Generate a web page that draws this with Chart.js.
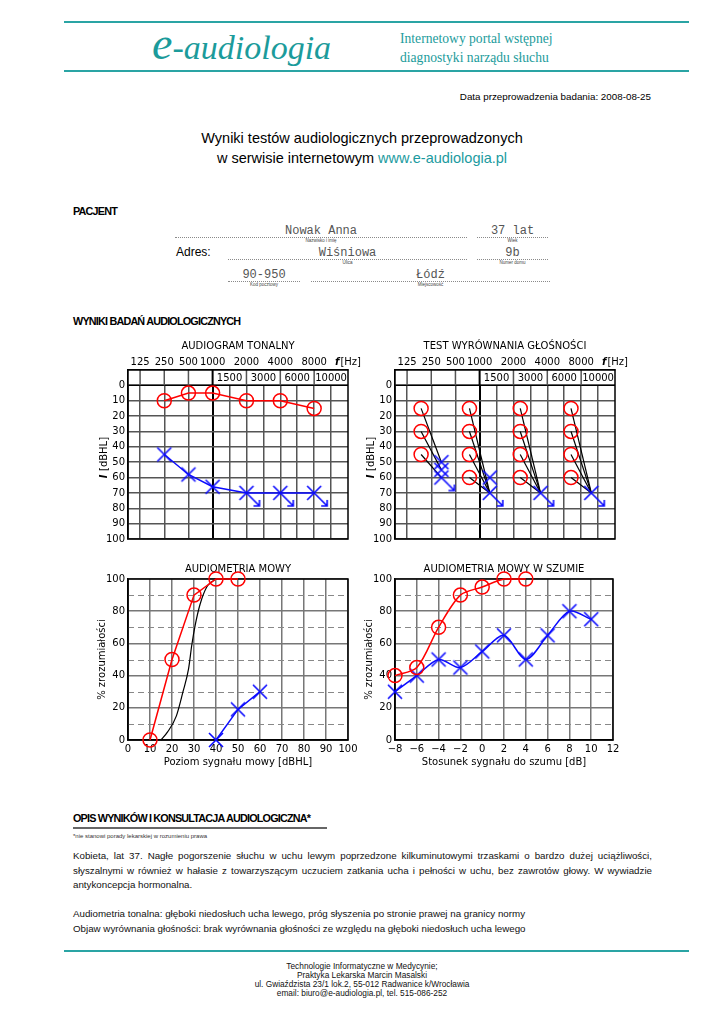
<!DOCTYPE html>
<html>
<head>
<meta charset="utf-8">
<script src="https://cdn.jsdelivr.net/npm/chart.js@4.4.1/dist/chart.umd.min.js"></script>
<style>
body{margin:0;background:#fff;}
#page{position:relative;width:724px;height:1024px;overflow:hidden;font-family:"Liberation Sans",Arial,sans-serif;color:#000;}
.t{position:absolute;white-space:nowrap;}
.hl{position:absolute;height:2px;background:#2aa4a4;}
.dots{position:absolute;height:0;border-top:1px dotted #8a8a8a;}
.val{position:absolute;text-align:center;font-family:"Liberation Mono",monospace;font-size:12px;color:#555;line-height:13px;white-space:nowrap;}
.cap{position:absolute;text-align:center;font-size:4.5px;color:#444;line-height:5px;white-space:nowrap;}
.head{position:absolute;font-weight:bold;font-size:10.8px;letter-spacing:-0.8px;line-height:12px;white-space:nowrap;}
.p{position:absolute;left:73px;font-size:9.75px;line-height:12px;color:#111;}
.j{width:579px;text-align:justify;text-align-last:justify;white-space:nowrap;}
canvas{position:absolute;}
</style>
</head>
<body>
<div id="page">
  <div class="hl" style="left:64px;top:21px;width:625px"></div>
  <div class="hl" style="left:64px;top:70px;width:625px"></div>
  <div class="t" style="left:152px;top:24px;font-family:'Liberation Serif',serif;font-style:italic;color:#1b9b9b;line-height:40px"><span style="font-size:46px">e</span><span style="font-size:34px">-audiologia</span></div>
  <div class="t" style="left:400px;top:30px;font-family:'Liberation Serif',serif;font-size:13.6px;line-height:17px;color:#1b9b9b">Internetowy portal wstępnej</div>
  <div class="t" style="left:400px;top:49px;font-family:'Liberation Serif',serif;font-size:13.6px;line-height:17px;color:#1b9b9b">diagnostyki narządu słuchu</div>

  <div class="t" style="right:73px;top:91px;font-size:9.8px;line-height:12px">Data przeprowadzenia badania: 2008-08-25</div>

  <div class="t" style="left:0;width:724px;text-align:center;top:128px;font-size:14.5px;line-height:20px">Wyniki testów audiologicznych przeprowadzonych</div>
  <div class="t" style="left:0;width:724px;text-align:center;top:148px;font-size:14.5px;line-height:20px">w serwisie internetowym <span style="color:#1b9ba0">www.e-audiologia.pl</span></div>

  <div class="head" style="left:73px;top:205px">PACJENT</div>
  <div class="t" style="left:176px;top:245px;font-size:12px;line-height:14px">Adres:</div>
  <div id="fields"></div>

  <div class="head" style="left:73px;top:315px">WYNIKI BADAŃ AUDIOLOGICZNYCH</div>

  <canvas id="c1" width="285" height="212" style="left:80px;top:336px"></canvas>
  <canvas id="c2" width="285" height="212" style="left:347px;top:336px"></canvas>
  <canvas id="c3" width="285" height="215" style="left:80px;top:558px"></canvas>
  <canvas id="c4" width="285" height="215" style="left:347px;top:558px"></canvas>

  <div class="head" style="left:73px;top:812px">OPIS WYNIKÓW I KONSULTACJA AUDIOLOGICZNA*</div>
  <div style="position:absolute;left:73px;top:827px;width:254px;height:2px;background:#666"></div>
  <div class="t" style="left:73px;top:833px;font-size:6px;line-height:6px;color:#333">*nie stanowi porady lekarskiej w rozumieniu prawa</div>

  <div class="p j" style="top:850px">Kobieta, lat 37. Nagłe pogorszenie słuchu w uchu lewym poprzedzone kilkuminutowymi trzaskami o bardzo dużej uciążliwości,</div>
  <div class="p j" style="top:865px">słyszalnymi w również w hałasie z towarzyszącym uczuciem zatkania ucha i pełności w uchu, bez zawrotów głowy. W wywiadzie</div>
  <div class="p t" style="top:879px">antykoncepcja hormonalna.</div>
  <div class="p t" style="top:908px">Audiometria tonalna: głęboki niedosłuch ucha lewego, próg słyszenia po stronie prawej na granicy normy</div>
  <div class="p t" style="top:923px">Objaw wyrównania głośności: brak wyrównania głośności ze względu na głęboki niedosłuch ucha lewego</div>

  <div class="hl" style="left:64px;top:950px;width:625px"></div>
  <div style="position:absolute;left:0;width:724px;top:962px;text-align:center;font-size:8.3px;line-height:9px;color:#111">
    Technologie Informatyczne w Medycynie;<br>Praktyka Lekarska Marcin Masalski<br>ul. Gwiaździsta 23/1 lok.2, 55-012 Radwanice k/Wrocławia<br>email: biuro@e-audiologia.pl, tel. 515-086-252
  </div>
</div>

<script>
// patient fields: left, width, line y, value, caption
var fields = [
  [175, 292, 237, 'Nowak Anna', 'Nazwisko i imię'],
  [477, 71, 237, '37 lat', 'Wiek'],
  [228, 239, 259, 'Wiśniowa', 'Ulica'],
  [477, 71, 259, '9b', 'Numer domu'],
  [228, 72, 281, '90-950', 'Kod pocztowy'],
  [311, 239, 281, 'Łódź', 'Miejscowość']
];
var fbox = document.getElementById('fields');
fields.forEach(function (f) {
  fbox.insertAdjacentHTML('beforeend',
    '<div class="dots" style="left:' + f[0] + 'px;top:' + f[2] + 'px;width:' + f[1] + 'px"></div>' +
    '<div class="val" style="left:' + f[0] + 'px;top:' + (f[2] - 12) + 'px;width:' + f[1] + 'px">' + f[3] + '</div>' +
    '<div class="cap" style="left:' + f[0] + 'px;top:' + (f[2] + 1) + 'px;width:' + f[1] + 'px">' + f[4] + '</div>');
});

// ---- data ----
var freqs = [125, 250, 500, 1000, 1500, 2000, 3000, 4000, 6000, 8000, 10000];
var mainFreqs = [125, 250, 500, 1000, 2000, 4000, 8000];
var midFreqs = [1500, 3000, 6000, 10000];
var dbTicks = [0, 10, 20, 30, 40, 50, 60, 70, 80, 90, 100];

// audiogram tonalny
var toneFreq = [250, 500, 1000, 2000, 4000, 8000];
var rightThreshold = [10, 5, 5, 10, 10, 15];
var leftThreshold = [45, 58, 66, 70, 70, 70];
var leftNoResponse = [false, false, false, true, true, true];

// test wyrownania glosnosci
var balanceFreq = [250, 1000, 3000, 8000];
var balanceRight = [[15, 30, 45], [15, 30, 45, 60], [15, 30, 45, 60], [15, 30, 45, 60]];
var balanceLeft = [[50, 55, 60], [70, 70, 70, 70], [70, 70, 70, 70], [70, 70, 70, 70]];
var balanceExtraLeft = [[], [60], [], []];
var balanceNoResponse = [60, 70, 70, 70];

// audiometria mowy
var speechLevel = [10, 20, 30, 40, 50];
var speechRight = [0, 50, 90, 100, 100];
var speechLevelLeft = [40, 50, 60];
var speechLeft = [0, 19, 30];
var normLevel = [15, 18, 22, 25, 27.5, 29, 30.5, 32.7, 35.8, 38.8, 40];
var normScore = [0, 5, 15, 30, 44, 59, 71, 84, 95, 99, 100];
var dashLevels = [10, 30, 50, 70, 90];

// audiometria mowy w szumie
var snrRight = [-8, -6, -4, -2, 0, 2, 4];
var noiseRight = [40, 45, 70, 90, 95, 100, 100];
var snrLeft = [-8, -6, -4, -2, 0, 2, 4, 6, 8, 10];
var noiseLeft = [30, 40, 50, 45, 55, 65, 50, 65, 80, 75];

// ---- look ----
var F = '"DejaVu Sans", sans-serif';
var RED = '#ff0000';
var BLUE = '#0a0aff';
var GRID = '#555';
var axisPos = [0, 1, 2, 3, 3.7, 4.4, 5.1, 5.8, 6.5, 7.2, 7.9]; // frequency axis layout
var OFF = 0.42; // side shift of ears in balance test
function fpos(f) { return axisPos[freqs.indexOf(f)]; }

function crossImg(color, arrow) {
  var c = document.createElement('canvas');
  c.width = 40; c.height = 40;
  var g = c.getContext('2d'), m = 20, h = 7;
  g.strokeStyle = color; g.lineWidth = 1.6;
  g.beginPath();
  g.moveTo(m - h, m - h); g.lineTo(m + h, m + h);
  g.moveTo(m + h, m - h); g.lineTo(m - h, m + h);
  if (arrow) {
    var t = m + 13;
    g.moveTo(m, m); g.lineTo(t, t);
    g.moveTo(t - 6, t); g.lineTo(t, t); g.lineTo(t, t - 6);
  }
  g.stroke();
  return c;
}
var cross = crossImg(BLUE, false);
var crossArrow = crossImg(BLUE, true);

function frame(chart) {
  var ctx = chart.ctx, a = chart.chartArea;
  ctx.save();
  ctx.strokeStyle = '#000'; ctx.lineWidth = 1.5;
  ctx.strokeRect(a.left, a.top, a.right - a.left, a.bottom - a.top);
  ctx.restore();
}

var bandPlugin = {
  id: 'band',
  beforeDatasetsDraw: function (chart) {
    var ctx = chart.ctx, a = chart.chartArea, x = chart.scales.x, y = chart.scales.y;
    var y0 = y.getPixelForValue(0);
    ctx.save();
    ctx.fillStyle = '#fff';
    ctx.fillRect(a.left, a.top, a.right - a.left, y0 - a.top - 1);
    mainFreqs.forEach(function (f) {
      var px = x.getPixelForValue(fpos(f));
      ctx.strokeStyle = f === 1000 ? '#000' : GRID;
      ctx.lineWidth = f === 1000 ? 2 : 1.5;
      ctx.beginPath(); ctx.moveTo(px, a.top); ctx.lineTo(px, y0); ctx.stroke();
    });
    ctx.fillStyle = '#000';
    ctx.font = '10px ' + F;
    ctx.textAlign = 'center'; ctx.textBaseline = 'middle';
    midFreqs.forEach(function (f) {
      ctx.fillText(String(f), x.getPixelForValue(fpos(f)), (a.top + y0) / 2 + 0.5);
    });
    // f [Hz] at the end of the top label row
    ctx.textAlign = 'left';
    ctx.font = 'italic bold 10px ' + F;
    var w1 = ctx.measureText('f').width;
    ctx.font = '10px ' + F;
    var w2 = ctx.measureText('[Hz]').width;
    var sx = a.right - (w1 + w2 + 1) / 2, ty = a.top - 8;
    ctx.font = 'italic bold 10px ' + F; ctx.fillText('f', sx, ty);
    ctx.font = '10px ' + F; ctx.fillText('[Hz]', sx + w1 + 1, ty);
    // axis title I [dBHL]
    ctx.save();
    ctx.translate(a.left - 24, y.getPixelForValue(47));
    ctx.rotate(-Math.PI / 2);
    ctx.font = 'italic bold 10px ' + F;
    var i1 = ctx.measureText('I ').width;
    ctx.font = '10px ' + F;
    var i2 = ctx.measureText('[dBHL]').width;
    ctx.font = 'italic bold 10px ' + F; ctx.fillText('I', -(i1 + i2) / 2, 0);
    ctx.font = '10px ' + F; ctx.fillText('[dBHL]', -(i1 + i2) / 2 + i1, 0);
    ctx.restore();
    ctx.restore();
    frame(chart);
  }
};

var dashPlugin = {
  id: 'dash',
  beforeDatasetsDraw: function (chart) {
    var ctx = chart.ctx, a = chart.chartArea, y = chart.scales.y;
    ctx.save();
    ctx.strokeStyle = '#888'; ctx.lineWidth = 1; ctx.setLineDash([6, 4]);
    dashLevels.forEach(function (v) {
      var py = Math.round(y.getPixelForValue(v)) + 0.5;
      ctx.beginPath(); ctx.moveTo(a.left, py); ctx.lineTo(a.right, py); ctx.stroke();
    });
    ctx.restore();
    frame(chart);
  }
};

function titleOpt(text) {
  return { display: true, text: text, fullSize: false, color: '#000',
    font: { family: F, size: 10, weight: 'normal' }, padding: { top: 4, bottom: 2 } };
}

function audiogramOptions(title) {
  return {
    responsive: false, animation: false, events: [],
    layout: { padding: { left: 14, right: 17, top: 0, bottom: 8 } },
    plugins: { legend: { display: false }, tooltip: { enabled: false }, title: titleOpt(title) },
    scales: {
      x: {
        type: 'linear', position: 'top', min: -0.5, max: 8.6,
        afterBuildTicks: function (s) { s.ticks = freqs.map(function (f) { return { value: fpos(f) }; }); },
        afterFit: function (s) { s.height = 16; },
        ticks: { autoSkip: false, maxRotation: 0, padding: 2, color: '#000', font: { family: F, size: 10 },
          callback: function (v) { var f = freqs[axisPos.indexOf(v)]; return mainFreqs.indexOf(f) >= 0 ? String(f) : ''; } },
        grid: { drawTicks: false,
          color: function (c) { return c.tick && c.tick.value === fpos(1000) ? '#000' : GRID; },
          lineWidth: function (c) { return c.tick && c.tick.value === fpos(1000) ? 2 : 1.5; } },
        border: { color: '#000', width: 1.5 }
      },
      y: {
        type: 'linear', reverse: true, min: -10, max: 100,
        afterBuildTicks: function (s) { s.ticks = [-10].concat(dbTicks).map(function (v) { return { value: v }; }); },
        afterFit: function (s) { s.width = 34; },
        ticks: { autoSkip: false, padding: 3, color: '#000', font: { family: F, size: 10 },
          callback: function (v) { return v < 0 ? '' : v; } },
        grid: { drawTicks: false,
          color: function (c) { return c.tick && c.tick.value === 0 ? '#000' : GRID; },
          lineWidth: function (c) { return c.tick && c.tick.value === 0 ? 2 : 1.5; } },
        border: { color: '#000', width: 1.5 }
      }
    }
  };
}

function speechOptions(title, xTitle, xmin, xmax, xstep, rightPad) {
  return {
    responsive: false, animation: false, events: [],
    layout: { padding: { left: 14, right: rightPad, top: 0, bottom: 5 } },
    plugins: { legend: { display: false }, tooltip: { enabled: false },
      title: Object.assign(titleOpt(title), { padding: { top: 5, bottom: 4 } }) },
    scales: {
      x: {
        type: 'linear', min: xmin, max: xmax,
        afterFit: function (s) { s.height = 28; },
        ticks: { stepSize: xstep, autoSkip: false, maxRotation: 0, padding: 3, color: '#000', font: { family: F, size: 10 },
          callback: function (v) { return v < 0 ? '\u2212' + Math.abs(v) : String(v); } },
        grid: { drawTicks: false, color: '#777', lineWidth: 1.5 },
        border: { color: '#000', width: 1.5 },
        title: { display: true, text: xTitle, color: '#000', font: { family: F, size: 10 }, padding: { top: 0, bottom: 0 } }
      },
      y: {
        type: 'linear', min: 0, max: 100,
        afterFit: function (s) { s.width = 34; },
        ticks: { stepSize: 20, padding: 3, color: '#000', font: { family: F, size: 10 } },
        grid: { drawTicks: false, color: '#777', lineWidth: 1.5 },
        border: { color: '#000', width: 1.5 },
        title: { display: true, text: '% zrozumiałości', color: '#000', font: { family: F, size: 10 }, padding: { top: 2, bottom: 2 } }
      }
    }
  };
}

function pts(xs, ys) { return xs.map(function (v, i) { return { x: v, y: ys[i] }; }); }

function circleSet(data, lineWidth, tension) {
  return { data: data, borderColor: RED, borderWidth: lineWidth, showLine: lineWidth > 0, tension: tension || 0,
    pointStyle: 'circle', pointRadius: 7, pointBorderColor: RED, pointBorderWidth: 1.5,
    pointBackgroundColor: 'rgba(0,0,0,0)', clip: false };
}
function crossSet(data, arrows, lineWidth, tension) {
  return { data: data, borderColor: BLUE, borderWidth: lineWidth, showLine: lineWidth > 0, tension: tension || 0,
    pointStyle: function (c) { return arrows[c.dataIndex] ? crossArrow : cross; },
    pointRadius: 7, clip: false };
}

// 1. audiogram tonalny
new Chart(document.getElementById('c1'), {
  type: 'line',
  data: { datasets: [
    circleSet(pts(toneFreq.map(fpos), rightThreshold), 1.5),
    crossSet(pts(toneFreq.map(fpos), leftThreshold), leftNoResponse, 1.5)
  ] },
  options: audiogramOptions('AUDIOGRAM TONALNY'),
  plugins: [bandPlugin]
});

// 2. test wyrownania glosnosci
var balRed = [], balBlue = [], balArrow = [], balLines = [], seen = {};
balanceFreq.forEach(function (f, g) {
  var xr = fpos(f) - OFF, xl = fpos(f) + OFF;
  balanceRight[g].forEach(function (r, i) {
    balRed.push({ x: xr, y: r });
    balLines.push({ data: [{ x: xr, y: r }, { x: xl, y: balanceLeft[g][i] }], borderColor: '#000',
      borderWidth: 1.2, pointRadius: 0, clip: false });
  });
  balanceLeft[g].concat(balanceExtraLeft[g]).forEach(function (l) {
    var k = g + ':' + l;
    if (seen[k]) return;
    seen[k] = true;
    balBlue.push({ x: xl, y: l });
    balArrow.push(l === balanceNoResponse[g]);
  });
});
new Chart(document.getElementById('c2'), {
  type: 'line',
  data: { datasets: [circleSet(balRed, 0), crossSet(balBlue, balArrow, 0)].concat(balLines) },
  options: audiogramOptions('TEST WYRÓWNANIA GŁOŚNOŚCI'),
  plugins: [bandPlugin]
});

// 3. audiometria mowy
new Chart(document.getElementById('c3'), {
  type: 'line',
  data: { datasets: [
    circleSet(pts(speechLevel, speechRight), 1.5),
    crossSet(pts(speechLevelLeft, speechLeft), [], 1.5),
    { data: pts(normLevel, normScore), borderColor: '#000', borderWidth: 1.2, pointRadius: 0,
      cubicInterpolationMode: 'monotone', clip: false }
  ] },
  options: speechOptions('AUDIOMETRIA MOWY', 'Poziom sygnału mowy [dBHL]', 0, 100, 10, 17),
  plugins: [dashPlugin]
});

// 4. audiometria mowy w szumie
new Chart(document.getElementById('c4'), {
  type: 'line',
  data: { datasets: [
    circleSet(pts(snrRight, noiseRight), 1.5, 0.3),
    crossSet(pts(snrLeft, noiseLeft), [], 1.5, 0.3)
  ] },
  options: speechOptions('AUDIOMETRIA MOWY W SZUMIE', 'Stosunek sygnału do szumu [dB]', -8, 12, 2, 19),
  plugins: [dashPlugin]
});
</script>
</body>
</html>
